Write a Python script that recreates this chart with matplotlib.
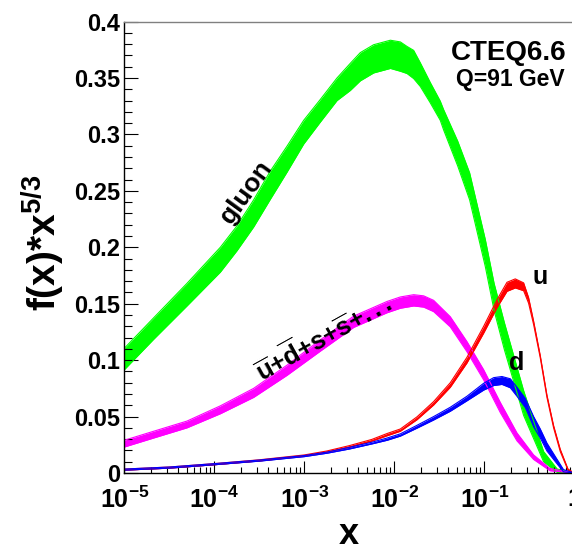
import numpy as np
import matplotlib
matplotlib.use('Agg')
import matplotlib.pyplot as plt
from matplotlib.ticker import LogLocator, MultipleLocator, FuncFormatter, NullFormatter

plt.rcParams['font.family'] = ['Liberation Sans', 'DejaVu Sans']
plt.rcParams['font.weight'] = 'bold'
plt.rcParams['mathtext.fontset'] = 'custom'
plt.rcParams['mathtext.rm'] = 'Liberation Sans:bold'
plt.rcParams['mathtext.it'] = 'Liberation Sans:bold'
plt.rcParams['mathtext.bf'] = 'Liberation Sans:bold'
plt.rcParams['mathtext.sf'] = 'Liberation Sans:bold'
plt.rcParams['mathtext.default'] = 'rm'

# ---- data: x as log10(x), band centre and full band width ----
gluon_logx = [-5.0, -4.674, -4.304, -3.933, -3.748, -3.563, -3.378, -3.193, -3.007, -2.822,
              -2.637, -2.489, -2.378, -2.23, -2.044, -1.933, -1.859, -1.785, -1.711, -1.6,
              -1.489, -1.452, -1.295, -1.163, -0.989, -0.891, -0.776, -0.563, -0.341, -0.19, 0.0]
gluon_mid = [0.101, 0.128, 0.158, 0.189, 0.208, 0.230, 0.255, 0.278, 0.302, 0.321,
             0.340, 0.351, 0.360, 0.367, 0.371, 0.369, 0.366, 0.362, 0.353, 0.337,
             0.321, 0.313, 0.283, 0.254, 0.195, 0.156, 0.121, 0.062, 0.0145, 0.002, 0.0]
gluon_wid = [0.019, 0.019, 0.020, 0.022, 0.022, 0.024, 0.025, 0.023, 0.021, 0.020,
             0.020, 0.024, 0.025, 0.025, 0.025, 0.026, 0.024, 0.025, 0.021, 0.018,
             0.017, 0.018, 0.022, 0.024, 0.024, 0.024, 0.024, 0.022, 0.009, 0.003, 0.0]

sea_logx = [-5.0, -4.674, -4.304, -3.933, -3.563, -3.193, -2.822, -2.452, -2.081, -1.933,
            -1.785, -1.674, -1.563, -1.378, -1.193, -1.007, -0.822, -0.637, -0.452, -0.27, 0.0]
sea_mid = [0.026, 0.034, 0.043, 0.056, 0.071, 0.091, 0.113, 0.134, 0.147, 0.151,
           0.153, 0.152, 0.148, 0.134, 0.112, 0.087, 0.058, 0.032, 0.014, 0.003, 0.0]
sea_wid = [0.006, 0.006, 0.006, 0.007, 0.008, 0.009, 0.010, 0.010, 0.010, 0.010,
           0.010, 0.010, 0.010, 0.009, 0.009, 0.009, 0.009, 0.007, 0.004, 0.002, 0.0]

u_logx = [-5.0, -4.5, -4.0, -3.5, -3.0, -2.75, -2.5, -2.25, -2.08, -1.933, -1.748, -1.563,
          -1.378, -1.193, -1.007, -0.859, -0.748, -0.656, -0.563, -0.508, -0.452, -0.378,
          -0.304, -0.23, -0.156, -0.07, 0.0]
u_mid = [0.003, 0.0048, 0.0078, 0.0112, 0.0155, 0.019, 0.0235, 0.029, 0.034, 0.038, 0.0485,
         0.0618, 0.078, 0.100, 0.127, 0.150, 0.165, 0.168, 0.165, 0.153, 0.133, 0.103,
         0.068, 0.041, 0.020, 0.003, 0.0]
u_wid = [0.001, 0.001, 0.001, 0.001, 0.001, 0.001, 0.0015, 0.0015, 0.002, 0.002, 0.0025,
         0.003, 0.004, 0.005, 0.006, 0.007, 0.008, 0.008, 0.007, 0.005, 0.003, 0.002,
         0.002, 0.002, 0.002, 0.001, 0.0]

d_logx = [-5.0, -4.5, -4.0, -3.5, -3.0, -2.75, -2.5, -2.25, -2.08, -1.933, -1.748, -1.563,
          -1.378, -1.193, -1.007, -0.896, -0.804, -0.711, -0.637, -0.544, -0.452, -0.378,
          -0.304, -0.23, -0.12, 0.0]
d_mid = [0.003, 0.0048, 0.0078, 0.011, 0.015, 0.018, 0.022, 0.0265, 0.030, 0.0337, 0.041,
         0.0485, 0.0565, 0.066, 0.0765, 0.081, 0.082, 0.0795, 0.072, 0.062, 0.0455, 0.035,
         0.023, 0.0145, 0.002, 0.0]
d_wid = [0.001, 0.001, 0.001, 0.001, 0.001, 0.001, 0.0015, 0.0015, 0.002, 0.002, 0.0025,
         0.003, 0.0035, 0.004, 0.006, 0.007, 0.007, 0.008, 0.008, 0.008, 0.009, 0.008,
         0.007, 0.005, 0.002, 0.0]

series = [
    (gluon_logx, gluon_mid, gluon_wid, '#00ff00'),
    (sea_logx, sea_mid, sea_wid, '#ff00ff'),
    (u_logx, u_mid, u_wid, '#ff0000'),
    (d_logx, d_mid, d_wid, '#0000ff'),
]

W, H = 572, 546
fig = plt.figure(figsize=(W / 100, H / 100), dpi=100)
ax = fig.add_axes([124.3 / W, 73 / H, 450 / W, 451.4 / H])

for lx, mid, wid, col in series:
    xv = np.power(10.0, np.array(lx))
    mid = np.array(mid)
    wid = np.array(wid)
    lo = mid - wid / 2
    hi = mid + wid / 2
    ax.fill_between(xv, lo, hi, color=col, lw=0)
    ax.plot(xv, lo, color=col, lw=0.8)
    ax.plot(xv, hi, color=col, lw=0.8)

ax.set_xscale('log')
ax.set_xlim(1e-5, 1)
ax.set_ylim(0, 0.4)

ax.xaxis.set_major_locator(LogLocator(base=10, numticks=10))
ax.xaxis.set_minor_locator(LogLocator(base=10, subs=range(2, 10), numticks=50))
ax.xaxis.set_minor_formatter(NullFormatter())


def fmt_x(v, pos):
    e = int(round(np.log10(v)))
    return '1' if e == 0 else r'$10^{%d}$' % e


ax.xaxis.set_major_formatter(FuncFormatter(fmt_x))
ax.yaxis.set_major_locator(MultipleLocator(0.05))
ax.yaxis.set_minor_locator(MultipleLocator(0.01))
ax.yaxis.set_major_formatter(FuncFormatter(lambda v, p: '%g' % round(v, 3)))

ax.tick_params(axis='x', which='major', direction='in', length=8.6, width=0.8,
               labelsize=18, pad=10, top=False)
ax.tick_params(axis='x', which='minor', direction='in', length=4.3, width=0.8, top=False)
ax.tick_params(axis='y', which='major', direction='in', length=10, width=0.8,
               labelsize=17, pad=3, right=False)
ax.tick_params(axis='y', which='minor', direction='in', length=5.8, width=0.8, right=False)

ax.spines['right'].set_visible(False)
ax.spines['top'].set_color('#808080')
for s in ('left', 'bottom', 'top'):
    ax.spines[s].set_linewidth(1.0)


def px(xp, yp):
    return (xp / W, 1 - yp / H)


fig.text(*px(43, 243), r'$f(x){*}x^{5/3}$', rotation=90, fontsize=28,
         ha='center', va='center')
fig.text(*px(349, 535), 'x', fontsize=26, fontweight='bold', ha='center', va='center')

fig.text(*px(567, 60), 'CTEQ6.6', fontsize=20, fontweight='bold', ha='right', va='baseline')
fig.text(*px(565, 86), 'Q=91 GeV', fontsize=16.5, fontweight='bold', ha='right', va='baseline')
fig.text(*px(246, 192), 'gluon', fontsize=19, fontweight='bold', rotation=54,
         ha='center', va='center')
fig.text(*px(323, 337), r'$\overline{u}{+}\overline{d}{+}s{+}\overline{s}{+}...$',
         fontsize=18.5, rotation=29, ha='center', va='center')
fig.text(*px(540, 277), 'u', fontsize=18, fontweight='bold', ha='center', va='center')
fig.text(*px(517, 363), 'd', fontsize=18, fontweight='bold', ha='center', va='center')

fig.savefig('out.png', dpi=100)
